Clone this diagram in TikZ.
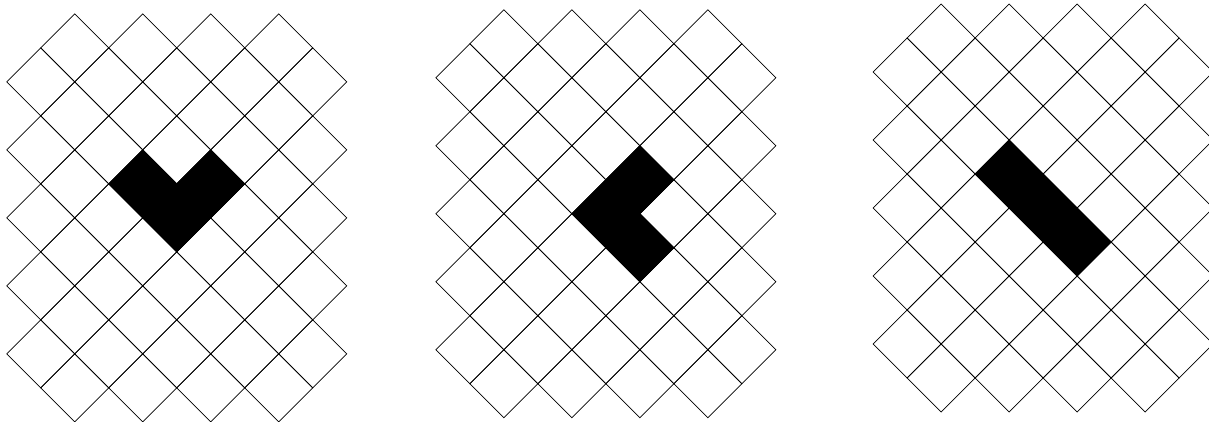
\documentclass[tikz,border=0pt]{standalone}
\usepackage{tikz}

\tikzset{
  cellline/.style={draw=black, line width=0.6pt},
  blackpiece/.style={fill=black, draw=black, line width=0.6pt}
}
% one rotated square centred at (#1,#2)
\newcommand{\rcell}[2]{\draw[cellline] (#1,#2+1) -- (#1+1,#2) -- (#1,#2-1) -- (#1-1,#2) -- cycle;}

\begin{document}
\begin{tikzpicture}[x=1cm, y=1cm]
  \useasboundingbox (0,0) rectangle (35.56,12.41);
  \clip (0,0) rectangle (35.56,12.41);
  % the three lattices
  \foreach \px/\py in {0.2/0, 12.82/0.12, 25.68/0.29} {
    \begin{scope}[shift={(\px,\py)}]
      \foreach \y in {1,3,...,11} {
        \foreach \x in {2,4,6,8} {\rcell{\x}{\y}}
      }
      \foreach \y in {2,4,...,10} {
        \foreach \x in {1,3,...,9} {\rcell{\x}{\y}}
      }
    \end{scope}
  }
  % left: V piece
  \begin{scope}[shift={(0.2,0)}]
    \path[blackpiece] (3,7) -- (4,8) -- (5,7) -- (6,8) -- (7,7) -- (5,5) -- cycle;
  \end{scope}
  % middle: bent piece
  \begin{scope}[shift={(12.82,0.12)}]
    \path[blackpiece] (6,8) -- (7,7) -- (6,6) -- (7,5) -- (6,4) -- (4,6) -- cycle;
  \end{scope}
  % right: straight piece
  \begin{scope}[shift={(25.68,0.29)}]
    \path[blackpiece] (4,8) -- (7,5) -- (6,4) -- (3,7) -- cycle;
  \end{scope}
\end{tikzpicture}
\end{document}
